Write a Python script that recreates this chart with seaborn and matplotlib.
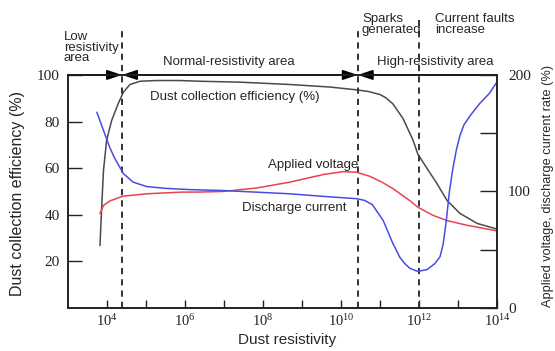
import numpy as np
import pandas as pd
import matplotlib
matplotlib.use('Agg')
import matplotlib.pyplot as plt
import seaborn as sns

# curves: x as log10(resistivity)
eff_exp = [3.82, 3.86, 3.91, 3.99, 4.12, 4.29, 4.42, 4.59, 4.85, 5.27, 5.87, 6.38,
           7.41, 8.69, 9.72, 10.40, 10.70, 11.0, 11.15, 11.33, 11.59, 11.85, 11.97,
           12.21, 12.46, 12.72, 13.05, 13.49, 13.95, 14.0]
eff_val = [26.8, 41.8, 59.0, 71.9, 80.5, 87.8, 92.6, 95.9, 97.3, 97.6, 97.6, 97.3,
           96.9, 95.9, 94.8, 93.6, 92.9, 91.6, 90.2, 87.6, 81.3, 71.9, 66.0,
           59.8, 53.4, 46.1, 40.6, 36.3, 34.1, 33.8]

# applied voltage, right axis (%)
volt_exp = [3.82, 3.91, 4.08, 4.42, 5.02, 5.87, 6.38, 6.97, 7.84, 8.69, 9.54, 10.05,
            10.40, 10.74, 11.05, 11.33, 11.77, 11.97, 12.36, 12.72, 13.23, 13.95, 14.0]
volt_val = [81, 88, 92, 96, 98, 99.4, 99.5, 100, 103, 108, 114.5, 117,
            116.5, 113, 108, 102.5, 92, 86.5, 79.5, 75, 71, 66.5, 66]

# discharge current, right axis (%)
curr_exp = [3.74, 3.91, 4.08, 4.20, 4.42, 4.67, 5.02, 5.53, 6.13, 6.97, 7.84, 8.69,
            9.54, 10.40, 10.60, 10.80, 11.08, 11.33, 11.51, 11.65, 11.77, 11.97, 12.21,
            12.41, 12.54, 12.62, 12.70, 12.78, 12.87, 12.96, 13.05, 13.15, 13.31,
            13.56, 13.80, 14.0]
curr_val = [168, 152.4, 137, 128.4, 115.4, 108, 104.2, 102.6, 101.6, 100.8, 99.4, 98,
            95.8, 93.8, 92.4, 88.8, 75.2, 55.4, 43.4, 37.6, 34, 31.4, 33,
            38.2, 44, 55, 75, 100, 120, 136, 148, 157, 165,
            175.6, 184, 194]

# region boundaries (log10)
bounds = [4.385, 10.43, 12.0]
xtick_exp = list(range(4, 15))

sns.set_style('ticks')
plt.rcParams['font.family'] = ['Liberation Sans', 'DejaVu Sans']

fig = plt.figure(figsize=(5.55, 3.51), dpi=100)
ax = fig.add_axes([0.1225, 0.1225, 0.773, 0.664])
ax2 = ax.twinx()

eff = pd.DataFrame({'x': np.power(10.0, eff_exp), 'y': eff_val})
volt = pd.DataFrame({'x': np.power(10.0, volt_exp), 'y': volt_val})
curr = pd.DataFrame({'x': np.power(10.0, curr_exp), 'y': curr_val})

sns.lineplot(data=eff, x='x', y='y', ax=ax, color='#4a4a4a', lw=1.1, estimator=None)
sns.lineplot(data=volt, x='x', y='y', ax=ax2, color='#e8444a', lw=1.1, estimator=None)
sns.lineplot(data=curr, x='x', y='y', ax=ax2, color='#4a4ae6', lw=1.1, estimator=None)

ax.set_xscale('log')
ax.set_xlim(1e3, 1e14)
ax.set_ylim(0, 100)
ax2.set_ylim(0, 200)

ax.set_xticks([10.0 ** k for k in xtick_exp])
ax.set_xticklabels([r'$\mathregular{10^{%d}}$' % k if k % 2 == 0 else '' for k in xtick_exp],
                   fontfamily='Liberation Serif', fontsize=10.5)
ax.xaxis.set_minor_locator(matplotlib.ticker.NullLocator())
ax.set_yticks([20, 40, 60, 80, 100])
ax.set_yticklabels(['20', '40', '60', '80', '100'], fontfamily='Liberation Serif', fontsize=11)
ax2.set_yticks([0, 50, 100, 150, 200])
ax2.set_yticklabels(['0', '', '100', '', '200'], fontfamily='Liberation Serif', fontsize=11)

ax.tick_params(axis='x', direction='in', length=6, width=1, pad=4, colors='#222222')
ax.tick_params(axis='y', direction='in', length=10, width=1, pad=6, colors='#222222')
ax2.tick_params(axis='y', direction='in', length=12, width=1, pad=8, colors='#222222')
for a in (ax, ax2):
    for s in a.spines.values():
        s.set_linewidth(1.2)
        s.set_color('#222222')

ax.set_xlabel('Dust resistivity', fontsize=11)
ax.xaxis.set_label_coords(0.51, -0.108)
ax.set_ylabel('Dust collection efficiency (%)', fontsize=11.5)
ax.yaxis.set_label_coords(-0.10, 0.49)
ax2.set_ylabel('Applied voltage, discharge current rate (%)', fontsize=9.2)
ax2.yaxis.set_label_coords(1.106, 0.525)

# dashed boundaries, running above the frame
tops = [1.20, 1.19, 1.236]
trans = matplotlib.transforms.blended_transform_factory(ax.transData, ax.transAxes)
for b, t in zip(bounds, tops):
    ax.plot([10 ** b, 10 ** b], [0, t], transform=trans, color='#333333', lw=1.4,
            ls=(0, (3.2, 2.6)), clip_on=False, zorder=5)

# region arrows along the top
ap = dict(color='black', lw=1.2, shrinkA=0, shrinkB=0, mutation_scale=10)
ax.annotate('', xy=(10 ** bounds[0], 100), xytext=(1e3, 100), annotation_clip=False,
            arrowprops=dict(arrowstyle='-|>,head_length=0.9,head_width=0.3', **ap))
ax.annotate('', xy=(10 ** bounds[1], 100), xytext=(10 ** bounds[0], 100), annotation_clip=False,
            arrowprops=dict(arrowstyle='<|-|>,head_length=0.9,head_width=0.3', **ap))
ax.annotate('', xy=(1e14, 100), xytext=(10 ** bounds[1], 100), annotation_clip=False,
            arrowprops=dict(arrowstyle='<|-,head_length=0.9,head_width=0.3', **ap))

fs = 9.5
ax.text(10 ** 7.13, 105.6, 'Normal-resistivity area', ha='center', va='center', fontsize=fs)
ax.text(10 ** 12.41, 105.6, 'High-resistivity area', ha='center', va='center', fontsize=fs)
ax.text(10 ** 5.1, 90.6, 'Dust collection efficiency (%)', ha='left', va='center', fontsize=fs)
ax.text(10 ** 8.13, 61.2, 'Applied voltage', ha='left', va='center', fontsize=fs)
ax.text(10 ** 7.46, 43.1, 'Discharge current', ha='left', va='center', fontsize=fs)
fig.text(64 / 555, 1 - 31 / 351, 'Low\nresistivity\narea', ha='left', va='top',
         fontsize=fs, linespacing=0.85)
fig.text(362 / 555, 1 - 13 / 351, 'Sparks\ngenerated', ha='left', va='top',
         fontsize=fs, linespacing=0.9)
fig.text(435 / 555, 1 - 13 / 351, 'Current faults\nincrease', ha='left', va='top',
         fontsize=fs, linespacing=0.9)

fig.savefig('out.png', dpi=100)
